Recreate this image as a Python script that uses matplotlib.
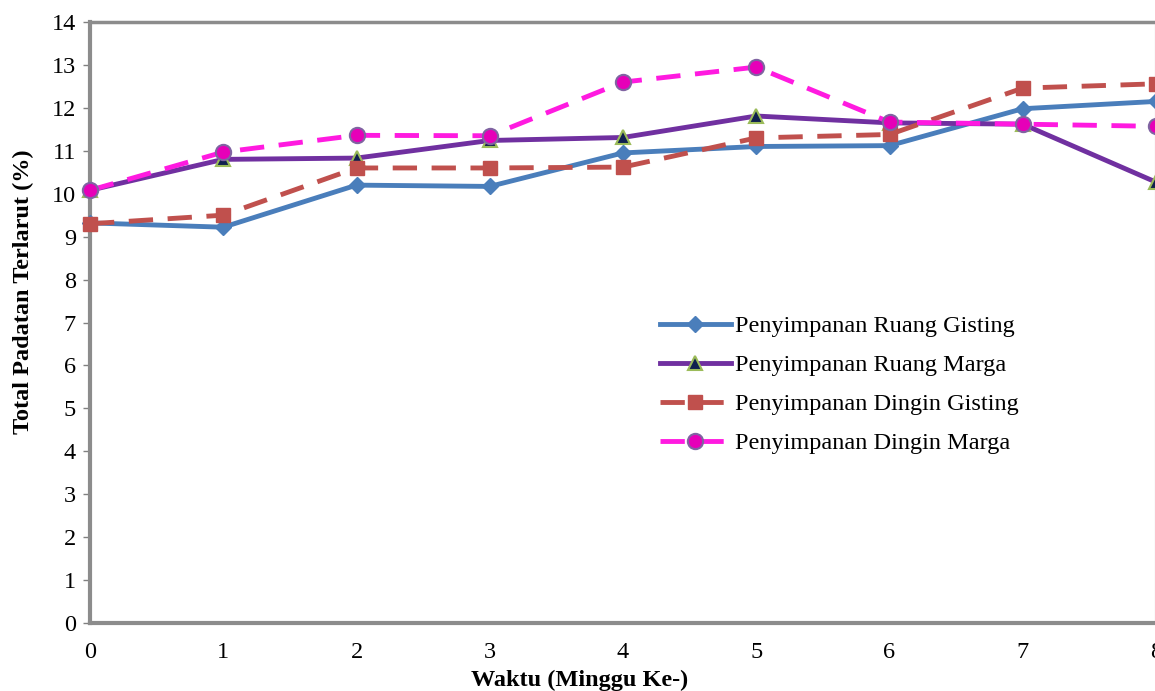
import matplotlib
matplotlib.use("Agg")
import matplotlib.pyplot as plt

weeks = [0, 1, 2, 3, 4, 5, 6, 7, 8]
ruang_gisting = [9.32, 9.22, 10.20, 10.17, 10.95, 11.10, 11.12, 11.98, 12.15]
ruang_marga = [10.08, 10.80, 10.83, 11.24, 11.31, 11.81, 11.65, 11.62, 10.27]
dingin_gisting = [9.30, 9.50, 10.60, 10.60, 10.62, 11.30, 11.38, 12.46, 12.56]
dingin_marga = [10.08, 10.97, 11.36, 11.35, 12.60, 12.95, 11.67, 11.62, 11.57]
labels = ["Penyimpanan Ruang Gisting", "Penyimpanan Ruang Marga",
          "Penyimpanan Dingin Gisting", "Penyimpanan Dingin Marga"]

plt.rcParams['font.family'] = ['Liberation Serif', 'DejaVu Serif']

fig = plt.figure(figsize=(11.55, 6.91), dpi=100)
ax = fig.add_axes([90/1155, 1 - 623/691, 1066/1155, 601/691])

ax.plot(weeks, ruang_gisting, color='#4A7EBB', lw=3.5, marker='D', ms=8,
        mfc='#4A7EBB', mec='#4A7EBB', label=labels[0], clip_on=False, zorder=3)
ax.plot(weeks, ruang_marga, color='#7030A0', lw=3.5, marker='^', ms=10,
        mfc='#10204F', mec='#9BBB59', mew=1.5, label=labels[1], clip_on=False, zorder=3)
ax.plot(weeks, dingin_gisting, color='#C0504D', lw=3.5, ls=(0, (5, 3)), marker='s', ms=10,
        mfc='#C0504D', mec='#C0504D', label=labels[2], clip_on=False, zorder=4)
ax.plot(weeks, dingin_marga, color='#FF1AE0', lw=3.5, ls=(0, (5, 3)), marker='o', ms=11,
        mfc='#E600B8', mec='#8064A2', mew=1.5, label=labels[3], clip_on=False, zorder=5)

ax.set_xlim(0, 8)
ax.set_ylim(0, 14)
ax.set_xticks(weeks)
ax.set_yticks(range(0, 15))
ax.tick_params(axis='y', direction='out', length=5, width=1, color='#808080',
               labelsize=17.5, pad=5)
ax.tick_params(axis='x', length=0, labelsize=17.5, pad=14)

for s in ax.spines.values():
    s.set_color('#8C8C8C')
ax.spines['left'].set_linewidth(3)
ax.spines['bottom'].set_linewidth(3)
ax.spines['top'].set_linewidth(2.5)
ax.spines['right'].set_linewidth(1.5)
ax.spines['right'].set_linestyle((0, (1, 1)))

ax.set_xlabel("Waktu (Minggu Ke-)", fontsize=17.5, fontweight='bold')
ax.xaxis.set_label_coords((580 - 90) / 1066, -47 / 601)
ax.set_ylabel("Total Padatan Terlarut (%)", fontsize=17.5, fontweight='bold')
ax.yaxis.set_label_coords(-56 / 1066, (623 - 292) / 601)

leg = ax.legend(loc='upper left', bbox_to_anchor=(553 / 1066, (623 - 298) / 601),
                frameon=False, fontsize=17.5, handlelength=2.9, handletextpad=0.2,
                labelspacing=0.7, borderpad=0.2)

fig.savefig("out.png", dpi=100)
